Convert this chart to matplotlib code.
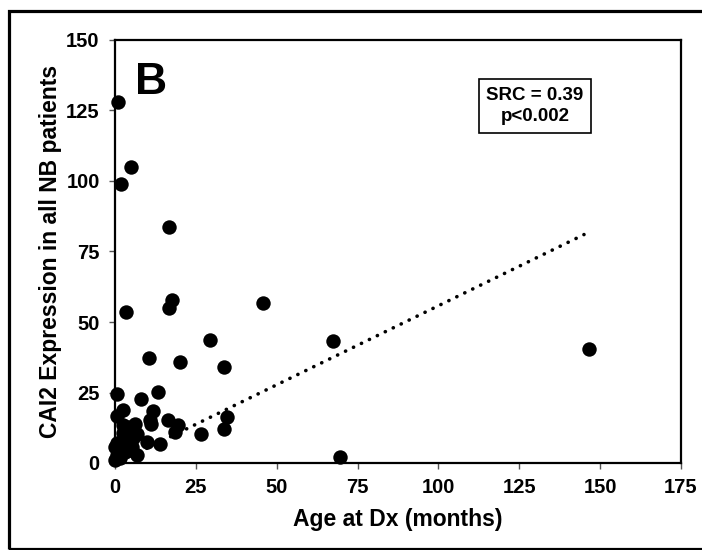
import numpy as np
import matplotlib
matplotlib.use('Agg')
import matplotlib.pyplot as plt
from matplotlib.patches import Rectangle

plt.rcParams['font.family'] = ['Liberation Sans', 'DejaVu Sans']
plt.rcParams['font.weight'] = 'bold'

# 数据: 诊断年龄 (月) 与 CAI2 表达
age_months = [1.0, 5.1, 1.8, 16.8, 3.4, 17.5, 16.8, 45.7, 67.3, 146.6,
              69.6, 29.4, 10.6, 20.1, 33.7,
              0.7, 13.4, 8.0, 2.4, 11.6, 0.5, 10.7, 16.5, 19.6, 18.6,
              34.7, 33.7, 26.6, 6.2, 2.6, 4.1, 2.6, 6.7, 9.8, 14.0,
              0.0, 2.6, 5.2, 6.7, 0.5, 0.0, 1.5, 3.1, 0.5, 3.6,
              5.7, 11.0]
cai2_expr = [128.0, 104.8, 98.8, 83.6, 53.7, 57.7, 54.9, 56.8, 43.1, 40.5,
             2.2, 43.7, 37.3, 35.8, 34.0,
             24.5, 25.2, 22.6, 18.8, 18.3, 16.5, 15.3, 15.4, 13.3, 11.0,
             16.2, 12.2, 10.4, 13.9, 13.5, 12.9, 10.5, 10.2, 7.6, 6.9,
             5.8, 5.2, 5.8, 3.0, 2.8, 1.1, 1.7, 4.0, 7.0, 9.4,
             8.8, 14.0]

# 趋势线端点
trend_x = [0.0, 145.0]
trend_y = [-0.3, 81.0]

x_ticks = [0, 25, 50, 75, 100, 125, 150, 175]
y_ticks = [0, 25, 50, 75, 100, 125, 150]

fig = plt.figure(figsize=(7.02, 5.50), dpi=100)
ax = fig.add_axes([115 / 702, 1 - 463 / 550, 566 / 702, 423 / 550])

ax.plot(trend_x, trend_y, color='black', linewidth=2.6,
        linestyle=(0, (0.05, 2.4)), dash_capstyle='round', zorder=2)
ax.scatter(age_months, cai2_expr, s=108, color='black', zorder=3,
           clip_on=False, linewidths=0)

ax.set_xlim(0, 175)
ax.set_ylim(0, 150)
ax.set_xticks(x_ticks)
ax.set_yticks(y_ticks)
ax.tick_params(direction='out', length=4, width=1, color='#555555',
               labelsize=14.5, pad=7)
for lbl in ax.get_xticklabels() + ax.get_yticklabels():
    lbl.set_fontweight('bold')
for sp in ax.spines.values():
    sp.set_linewidth(1.6)

ax.set_xlabel('Age at Dx (months)', fontsize=16.5, fontweight='bold', labelpad=8)
ax.set_ylabel('CAI2 Expression in all NB patients', fontsize=16.5,
              fontweight='bold', labelpad=3)

ax.text(0.036, 0.947, 'B', transform=ax.transAxes, fontsize=32,
        fontweight='bold', va='top', ha='left')
ax.text(0.742, 0.844, 'SRC = 0.39\np<0.002', transform=ax.transAxes,
        fontsize=13.5, fontweight='bold', ha='center', va='center',
        linespacing=1.35,
        bbox=dict(boxstyle='square,pad=0.4', facecolor='white',
                  edgecolor='black', linewidth=1.2))

# 外框
fig.patches.append(Rectangle((8.5 / 702, 1.5 / 550), 1.0, 538 / 550,
                             transform=fig.transFigure, fill=False,
                             edgecolor='black', linewidth=2.3))

plt.savefig('out.png', dpi=100)
plt.close()
